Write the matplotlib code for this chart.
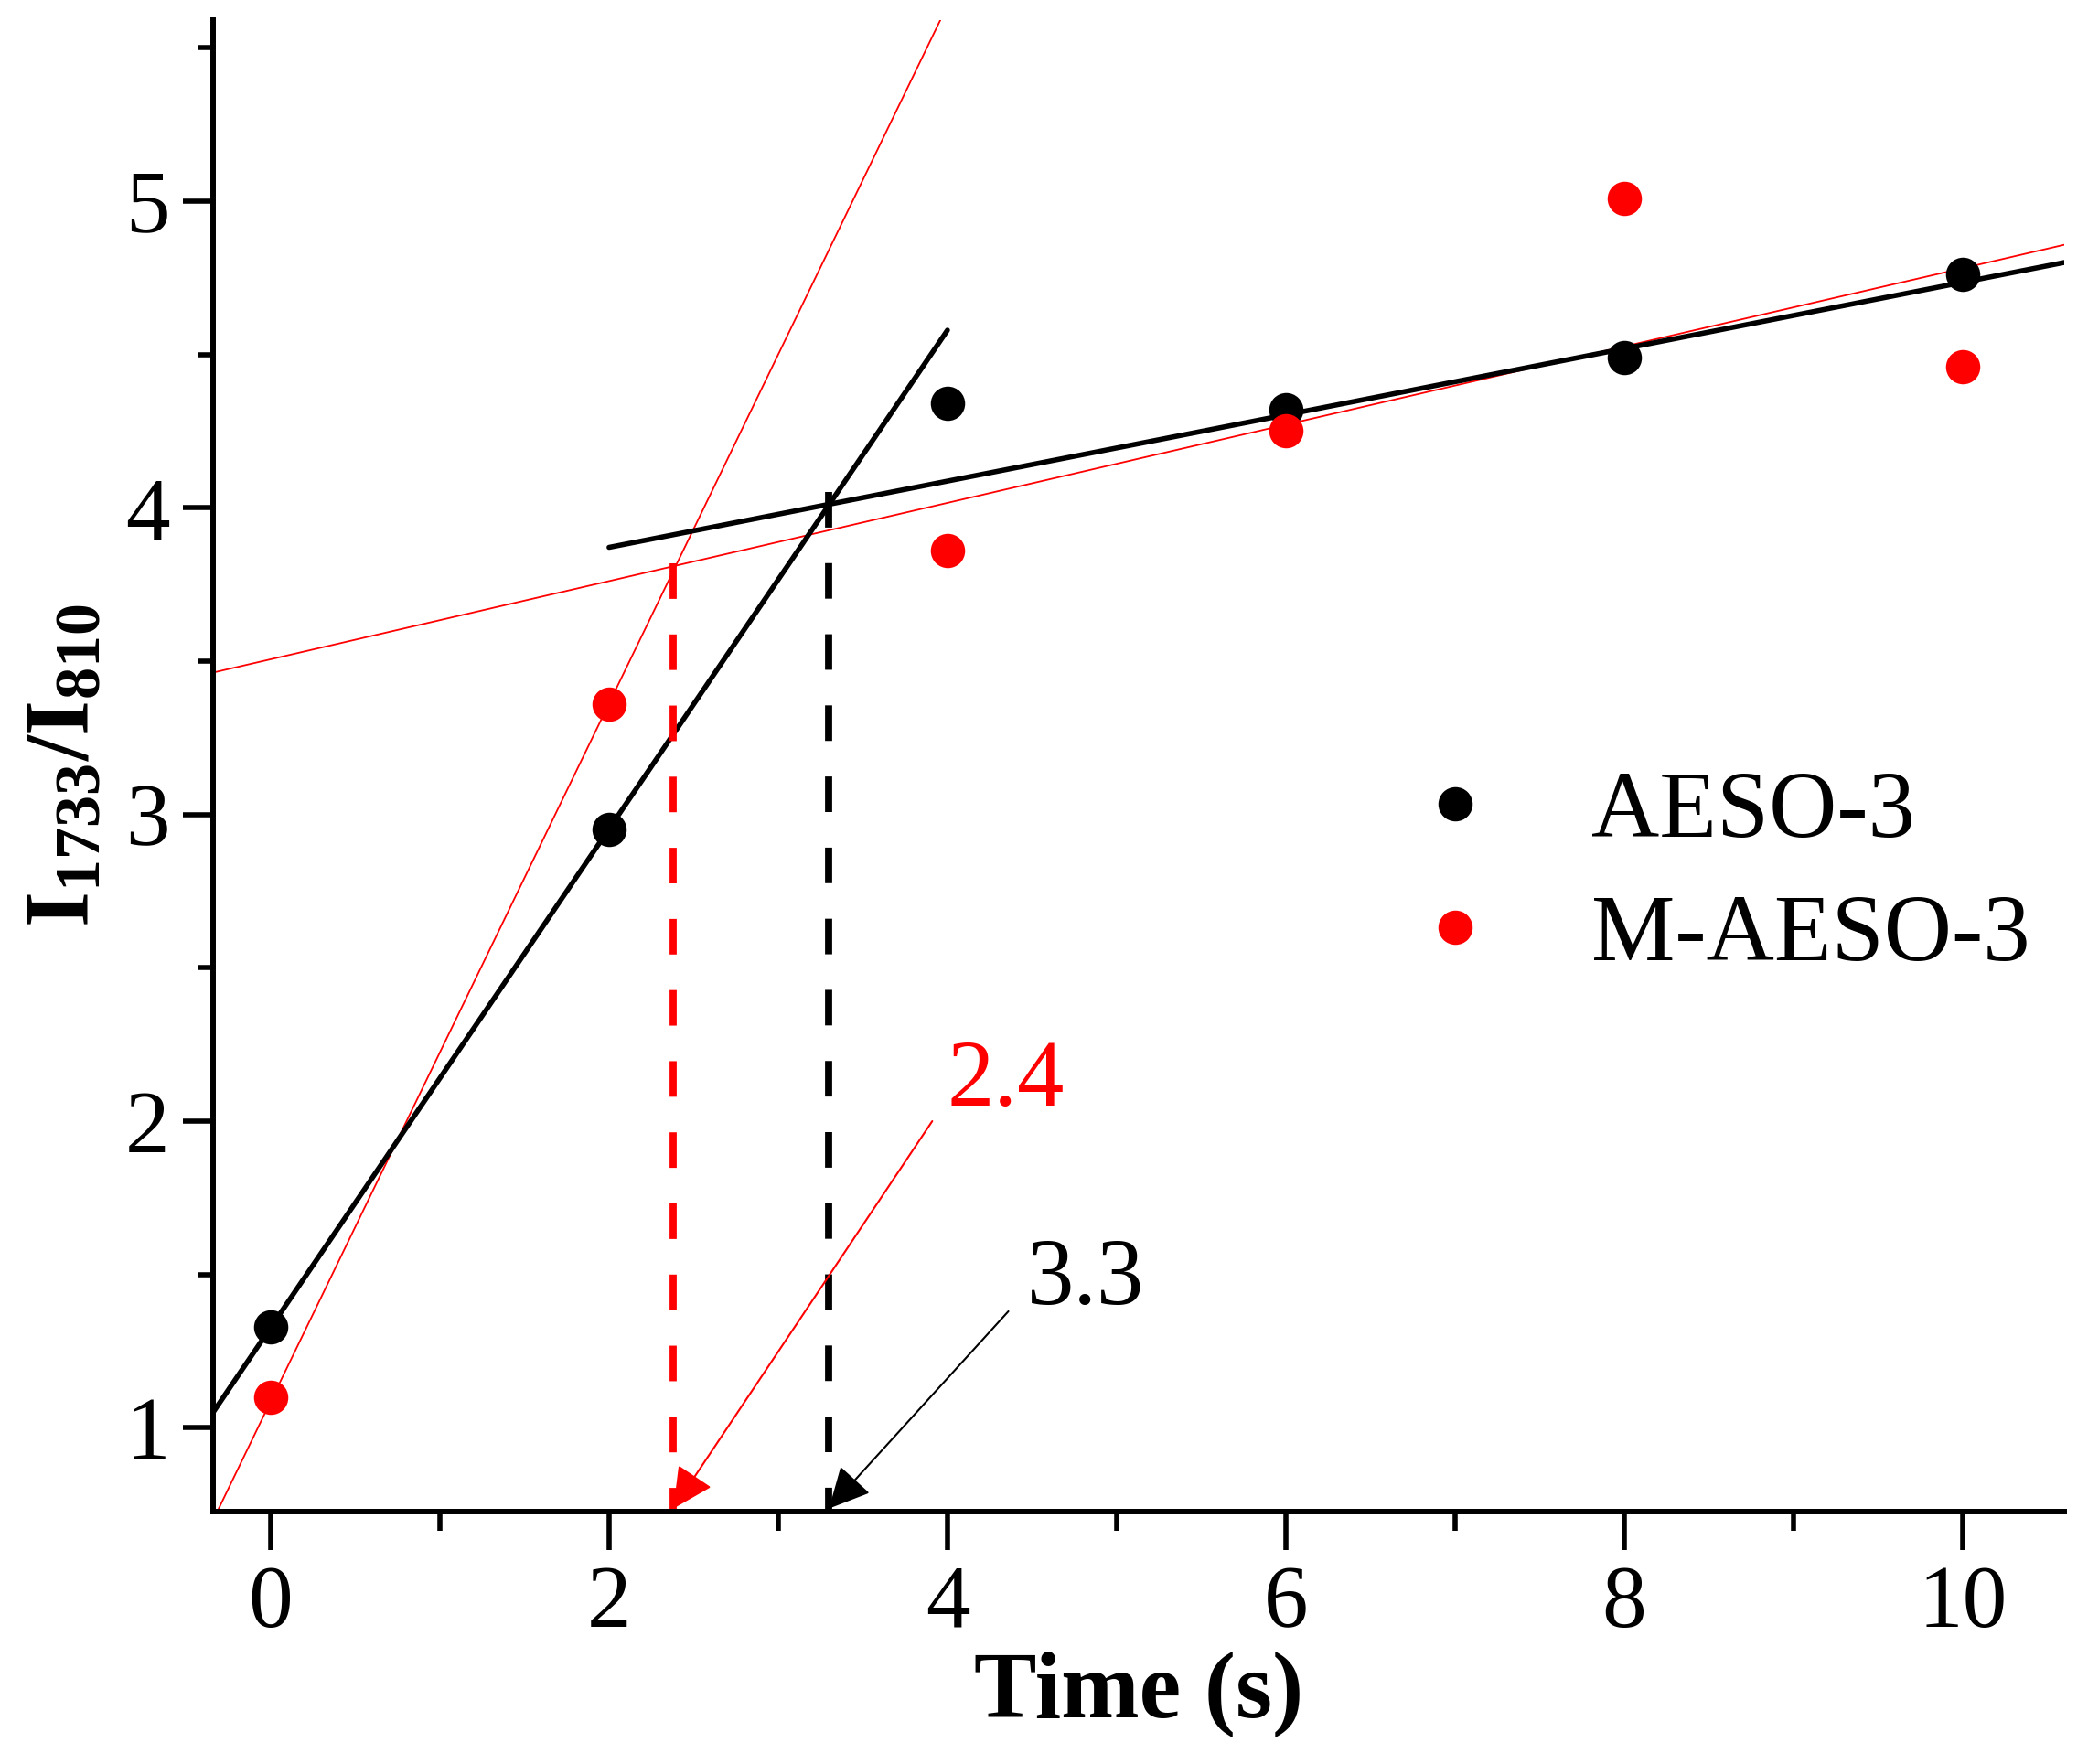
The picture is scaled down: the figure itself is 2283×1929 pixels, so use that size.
import numpy as np
import matplotlib
matplotlib.use("Agg")
import matplotlib.pyplot as plt
from matplotlib.ticker import MultipleLocator

plt.rcParams['font.family'] = ['Liberation Serif', 'DejaVu Serif']
plt.rcParams['mathtext.fontset'] = 'custom'
plt.rcParams['mathtext.rm'] = 'Liberation Serif'
plt.rcParams['mathtext.bf'] = 'Liberation Serif:bold'

# ---- data ----
time = [0, 2, 4, 6, 8, 10]
aeso = [1.33, 2.95, 4.34, 4.32, 4.49, 4.76]
maeso = [1.10, 3.36, 3.86, 4.25, 5.01, 4.46]

# fitted lines: intercept, slope
aeso_fast = (1.327, 0.813)
aeso_slow = (3.655, 0.108)
maeso_fast = (1.086, 1.138)
maeso_slow = (3.506, 0.1275)
onset_maeso = 2.38
onset_aeso = 3.30
onset_labels = ["2.4", "3.3"]
series_labels = ["AESO-3", "M-AESO-3"]

XMIN, XMAX = -0.34, 10.6
YMIN, YMAX = 0.727, 5.59

W, H = 2283, 1929
fig = plt.figure(figsize=(W / 100, H / 100), dpi=100)
ax = fig.add_axes([233 / W, 1 - 1653 / H, (2257 - 233) / W, (1653 - 22) / H])


def line(p, x0, x1):
    xs = np.array([x0, x1])
    return xs, p[0] + p[1] * xs

# fit lines
xs, ys = line(maeso_fast, XMIN, XMAX)
ax.plot(xs, ys, color='red', lw=1.3, zorder=2)
xs, ys = line(maeso_slow, XMIN, XMAX)
ax.plot(xs, ys, color='red', lw=1.3, zorder=2)
xs, ys = line(aeso_fast, XMIN, 4.0)
ax.plot(xs, ys, color='black', lw=4.0, zorder=2, solid_capstyle='round')
xs, ys = line(aeso_slow, 2.0, XMAX)
ax.plot(xs, ys, color='black', lw=4.0, zorder=2, solid_capstyle='round')

# dashed onset lines (drawn top -> bottom so the pattern starts at the top)
ym = maeso_slow[0] + maeso_slow[1] * onset_maeso
ya = aeso_slow[0] + aeso_slow[1] * onset_aeso
ax.plot([onset_maeso, onset_maeso], [ym + 0.01, YMIN], color='red', lw=5.6,
        dashes=(5.0, 5.0), dash_capstyle='butt', zorder=2)
ax.plot([onset_aeso, onset_aeso], [ya + 0.04, YMIN], color='black', lw=5.6,
        dashes=(5.0, 5.0), dash_capstyle='butt', zorder=2)

# scatter points
ax.plot(time, aeso, 'o', color='black', ms=27, mec='none', zorder=3,
        label=series_labels[0])
ax.plot(time, maeso, 'o', color='red', ms=27, mec='none', zorder=3,
        label=series_labels[1])

# annotations
ax.annotate('', xy=(onset_maeso, YMIN + 0.01), xytext=(3.91, 2.0),
            arrowprops=dict(arrowstyle='-|>', color='red', lw=1.5,
                            mutation_scale=70, shrinkA=0, shrinkB=0))
ax.text(4.0, 2.05, onset_labels[0], color='red', fontsize=74,
        ha='left', va='baseline')
ax.annotate('', xy=(onset_aeso, YMIN + 0.01), xytext=(4.36, 1.38),
            arrowprops=dict(arrowstyle='-|>', color='black', lw=1.5,
                            mutation_scale=70, shrinkA=0, shrinkB=0))
ax.text(4.47, 1.405, onset_labels[1], color='black', fontsize=74,
        ha='left', va='baseline')

ax.set_xlim(XMIN, XMAX)
ax.set_ylim(YMIN, YMAX)
ax.xaxis.set_major_locator(MultipleLocator(2))
ax.xaxis.set_minor_locator(MultipleLocator(1))
ax.yaxis.set_major_locator(MultipleLocator(1))
ax.yaxis.set_minor_locator(MultipleLocator(0.5))

for s in ['top', 'right']:
    ax.spines[s].set_visible(False)
for s in ['left', 'bottom']:
    ax.spines[s].set_linewidth(4.3)

ax.tick_params(axis='x', which='major', direction='out', length=30, width=4.0, labelsize=70, pad=12)
ax.tick_params(axis='x', which='minor', direction='out', length=15, width=4.0)
ax.tick_params(axis='y', which='major', direction='out', length=24, width=4.0, labelsize=70, pad=10)
ax.tick_params(axis='y', which='minor', direction='out', length=12, width=4.0)

ax.set_xlabel('Time (s)', fontsize=74, fontweight='bold', labelpad=4)
ax.set_ylabel(r'$\mathbf{I_{1733}/I_{810}}$', fontsize=72, labelpad=15)

leg = ax.legend(loc='upper left', bbox_to_anchor=(1540 / W, 1 - 843 / H),
                bbox_transform=fig.transFigure, frameon=False, fontsize=74,
                handlelength=1.0, handletextpad=0.95, labelspacing=0.4,
                borderpad=0, borderaxespad=0, markerscale=1.0)

fig.savefig('out.png', dpi=100)
